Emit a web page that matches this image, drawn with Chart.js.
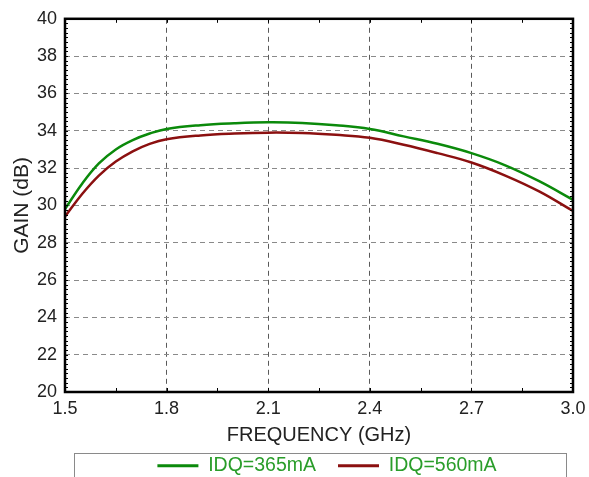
<!DOCTYPE html>
<html>
<head>
<meta charset="utf-8">
<script src="https://cdn.jsdelivr.net/npm/chart.js@4.4.0/dist/chart.umd.min.js"></script>
<style>
  html, body { margin: 0; padding: 0; background: #fff; }
  #wrap { width: 589px; height: 477px; }
</style>
</head>
<body>
<div id="wrap"><canvas id="gainChart" width="589" height="477"></canvas></div>
<script>
// frequency points (GHz) and gain (dB)
const freqGHz = [1.50, 1.55, 1.60, 1.65, 1.70, 1.75, 1.80, 1.90, 2.00, 2.10, 2.20, 2.30, 2.40, 2.50, 2.60, 2.70, 2.80, 2.90, 3.00];
const gain365 = [29.8, 31.15, 32.25, 33.0, 33.5, 33.85, 34.1, 34.3, 34.4, 34.45, 34.42, 34.3, 34.1, 33.7, 33.3, 32.8, 32.15, 31.3, 30.3];
const gain560 = [29.4, 30.6, 31.6, 32.35, 32.9, 33.3, 33.55, 33.75, 33.85, 33.9, 33.88, 33.78, 33.62, 33.25, 32.8, 32.3, 31.6, 30.75, 29.7];

const xTicks = [1.5, 1.8, 2.1, 2.4, 2.7, 3.0];
const yTicks = [20, 22, 24, 26, 28, 30, 32, 34, 36, 38, 40];
const seriesNames = ['IDQ=365mA', 'IDQ=560mA'];
const seriesColors = ['#0b8a0b', '#8b1010'];
const legendTextColor = '#2a9d2a';

const FONT = "'Liberation Sans', Arial, sans-serif";

function toPoints(xs, ys) {
    return xs.map((x, i) => ({ x: x, y: ys[i] }));
}

// frame, inside tick marks and legend box
const framePlugin = {
    id: 'frame',
    beforeLayout(chart) {
        const legend = chart.legend;
        if (legend && !legend._patched) {
            const origFit = legend.fit.bind(legend);
            legend.fit = function () {
                origFit();
                this.height = 30;
            };
            legend._patched = true;
        }
    },
    afterLayout(chart) {
        const legend = chart.legend;
        if (!legend) return;
        legend.left = 88;
        legend.right = 566;
        legend.width = 478;
        legend.top = 434;
        legend.bottom = 477;
    },
    afterDraw(chart) {
        const { ctx, chartArea: a, scales } = chart;
        const xs = scales.x, ys = scales.y;
        ctx.save();
        ctx.strokeStyle = '#000';
        ctx.lineWidth = 1;
        ctx.beginPath();
        for (let v = 20; v <= 40.001; v += 0.25) {
            const py = Math.round(ys.getPixelForValue(v)) + 0.5;
            ctx.moveTo(a.left, py); ctx.lineTo(a.left + 3, py);
            ctx.moveTo(a.right, py); ctx.lineTo(a.right - 3, py);
        }
        for (let v = 1.5; v <= 3.0001; v += 0.15) {
            const px = Math.round(xs.getPixelForValue(v)) + 0.5;
            ctx.moveTo(px, a.top); ctx.lineTo(px, a.top + 4);
            ctx.moveTo(px, a.bottom); ctx.lineTo(px, a.bottom - 4);
        }
        ctx.stroke();

        ctx.lineWidth = 2.5;
        ctx.strokeRect(a.left, a.top, a.right - a.left, a.bottom - a.top);

        ctx.lineWidth = 1;
        ctx.strokeStyle = '#8a8a8a';
        ctx.strokeRect(74.5, 453.5, 492, 40);
        ctx.restore();
    }
};

const config = {
    type: 'line',
    data: {
        datasets: [
            {
                label: seriesNames[0],
                data: toPoints(freqGHz, gain365),
                borderColor: seriesColors[0],
                backgroundColor: seriesColors[0],
                borderWidth: 2.5,
                pointRadius: 0,
                fill: false,
                tension: 0.4
            },
            {
                label: seriesNames[1],
                data: toPoints(freqGHz, gain560),
                borderColor: seriesColors[1],
                backgroundColor: seriesColors[1],
                borderWidth: 2.5,
                pointRadius: 0,
                fill: false,
                tension: 0.4
            }
        ]
    },
    options: {
        responsive: false,
        animation: false,
        layout: {
            padding: { left: 0, right: 16, top: 13, bottom: 0 }
        },
        plugins: {
            tooltip: { enabled: false },
            legend: {
                display: true,
                position: 'bottom',
                labels: {
                    boxWidth: 41,
                    boxHeight: 3,
                    padding: 22,
                    color: legendTextColor,
                    font: { family: FONT, size: 19.5 },
                    generateLabels(chart) {
                        return chart.data.datasets.map((ds, i) => ({
                            text: ds.label,
                            fillStyle: seriesColors[i],
                            strokeStyle: seriesColors[i],
                            lineWidth: 0,
                            fontColor: legendTextColor,
                            datasetIndex: i
                        }));
                    }
                }
            }
        },
        scales: {
            x: {
                type: 'linear',
                min: 1.5,
                max: 3.0,
                afterBuildTicks(scale) {
                    scale.ticks = xTicks.map(v => ({ value: v }));
                },
                afterFit(scale) {
                    scale.height = 55;
                    scale.paddingLeft = 0;
                    scale.paddingRight = 0;
                },
                border: { display: false, dash: [5, 4] },
                grid: {
                    color: ctx => (ctx.tick && (ctx.tick.value === 1.5 || ctx.tick.value === 3.0)) ? 'rgba(0,0,0,0)' : '#5a5a5a',
                    lineWidth: 1,
                    drawTicks: false
                },
                ticks: {
                    padding: 6,
                    color: '#222',
                    font: { family: FONT, size: 18 },
                    maxRotation: 0,
                    callback: v => Number(v).toFixed(1)
                },
                title: {
                    display: true,
                    text: 'FREQUENCY (GHz)',
                    color: '#222',
                    font: { family: FONT, size: 20 },
                    padding: { top: 0, bottom: 0 }
                }
            },
            y: {
                min: 20,
                max: 40,
                afterBuildTicks(scale) {
                    scale.ticks = yTicks.map(v => ({ value: v }));
                },
                afterFit(scale) {
                    scale.width = 65;
                },
                border: { display: false, dash: [5, 4] },
                grid: {
                    color: ctx => (ctx.tick && (ctx.tick.value === 20 || ctx.tick.value === 40)) ? 'rgba(0,0,0,0)' : '#8a8a8a',
                    lineWidth: 1,
                    drawTicks: false
                },
                ticks: {
                    padding: 8,
                    color: '#222',
                    font: { family: FONT, size: 18 }
                },
                title: {
                    display: true,
                    text: 'GAIN (dB)',
                    color: '#222',
                    font: { family: FONT, size: 21 },
                    padding: { top: 10, bottom: 0 }
                }
            }
        }
    },
    plugins: [framePlugin]
};

const canvas = document.getElementById('gainChart');
try {
    new Chart(canvas, config);
} catch (error) {
    console.error('Error rendering gain chart:', error);
}
</script>
</body>
</html>
